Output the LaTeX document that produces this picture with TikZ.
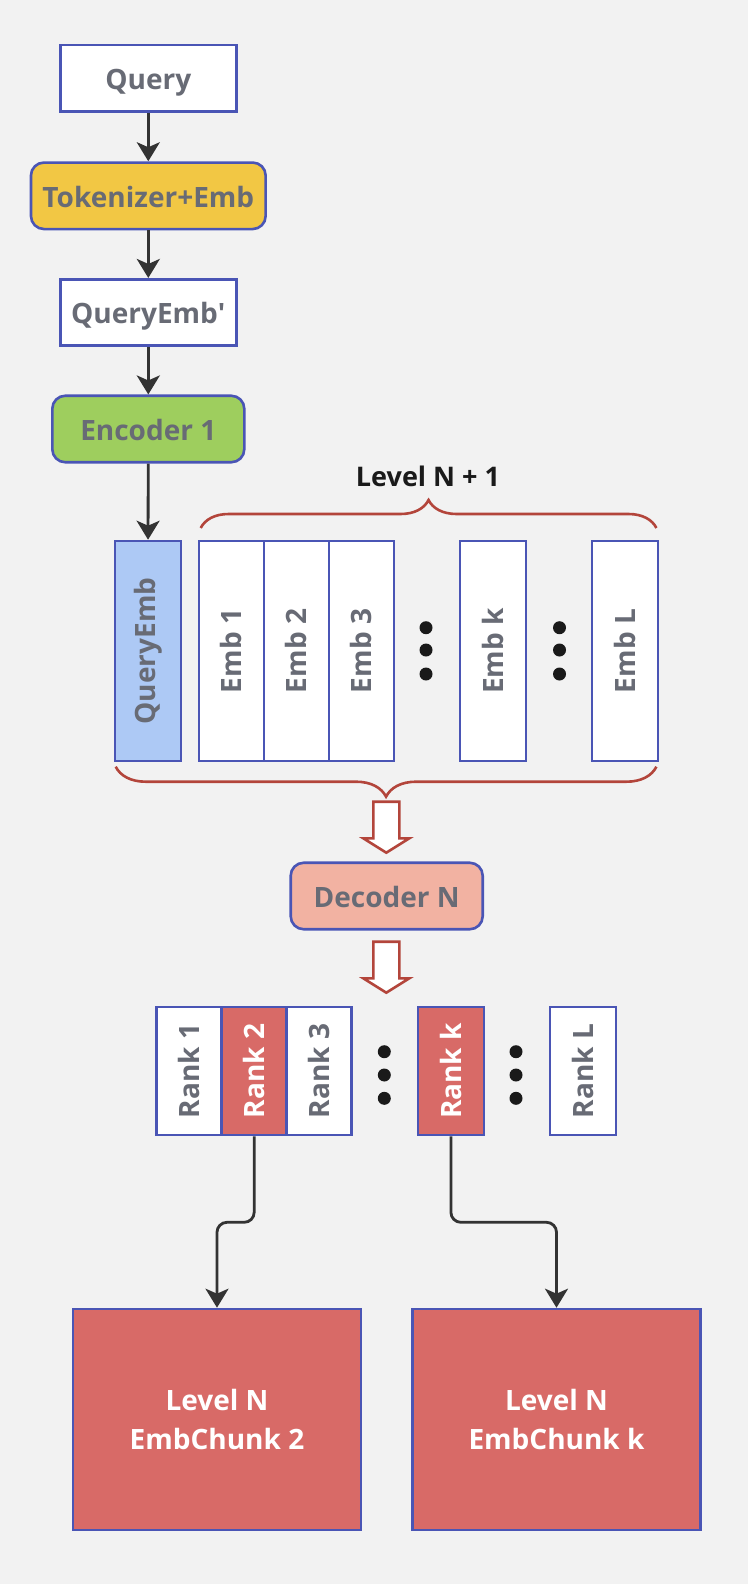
\documentclass[tikz,border=0pt]{standalone}
\usepackage{fontspec}
\setmainfont{Open Sans}
\usepackage{graphicx}
\usetikzlibrary{arrows.meta,decorations.pathreplacing}
\definecolor{bgcol}{HTML}{F2F2F2}
\definecolor{boxblue}{HTML}{4A55B5}
\definecolor{txtgray}{HTML}{686B75}
\definecolor{tokgold}{HTML}{F2C744}
\definecolor{encgreen}{HTML}{9ECE5E}
\definecolor{qblue}{HTML}{ADC9F5}
\definecolor{decpink}{HTML}{F2B2A2}
\definecolor{hitred}{HTML}{D86A67}
\definecolor{bracered}{HTML}{B3453B}
\definecolor{arrowgray}{HTML}{333333}
\definecolor{dotblack}{HTML}{1A1A1A}
\begin{document}
\begin{tikzpicture}[x=1pt, y=-1pt,
    every node/.style={font=\fontsize{28}{39}\selectfont\bfseries, text=txtgray, inner sep=0pt},
    box/.style={draw=boxblue, line width=2.6pt, fill=white, minimum width=176pt, minimum height=66.5pt},
    hbox/.style={box, text height=22.5pt, text depth=0pt},
    rbox/.style={hbox, rounded corners=13pt},
    embbox/.style={box, minimum width=65pt, minimum height=220pt},
    rankbox/.style={box, minimum width=65pt, minimum height=128pt},
    chunkbox/.style={box, fill=hitred, text=white, minimum width=288pt, minimum height=221pt, align=center},
    hit/.style={fill=hitred, text=white},
    conn/.style={draw=arrowgray, line width=2.8pt, -{Stealth[length=19pt, width=23pt, inset=5pt]}},
    brace/.style={draw=bracered, line width=2.6pt, decorate, decoration={brace, amplitude=28pt}},
    hollow/.style={draw=bracered, line width=2.6pt, fill=white, line join=miter}]
    \fill[bgcol] (0,0) rectangle (748,1584);
    \node [hbox] (query) at (148.3,78.3) {Query};
    \node [rbox, fill=tokgold, minimum width=234.7pt] (tok) at (148.3,195.8) {Tokenizer+Emb};
    \node [hbox] (qemb') at (148.3,312.5) {QueryEmb\textquotesingle};
    \node [rbox, fill=encgreen, minimum width=192pt] (enc) at (148.3,429) {Encoder 1};
    \node [embbox, fill=qblue, minimum width=66pt] (qemb) at (147.8,651) {\rotatebox{90}{QueryEmb}};
    \node [embbox] (emb1) at (231.3,651) {\rotatebox{90}{Emb 1}};
    \node [embbox] (emb2) at (296.3,651) {\rotatebox{90}{Emb 2}};
    \node [embbox] (emb3) at (361.3,651) {\rotatebox{90}{Emb 3}};
    \node [embbox, minimum width=66pt] (embk) at (493.1,651) {\rotatebox{90}{Emb k}};
    \node [embbox, minimum width=66pt] (embL) at (624.9,651) {\rotatebox{90}{Emb L}};
    \node [text=dotblack, font=\fontsize{27}{32}\selectfont\bfseries] (level) at (428,476) {Level N + 1};
    \node [rbox, fill=decpink, minimum width=192pt] (dec) at (386.7,896) {Decoder N};
    \node [rankbox] (rank1) at (189.2,1071) {\rotatebox{90}{Rank 1}};
    \node [rankbox, hit] (rank2) at (254.2,1071) {\rotatebox{90}{Rank 2}};
    \node [rankbox] (rank3) at (319.2,1071) {\rotatebox{90}{Rank 3}};
    \node [rankbox, hit, minimum width=66pt] (rankk) at (450.9,1071) {\rotatebox{90}{Rank k}};
    \node [rankbox, minimum width=66pt] (rankL) at (583,1071) {\rotatebox{90}{Rank L}};
    \node [chunkbox] (chunk2) at (217,1419.5) {Level N\\EmbChunk 2};
    \node [chunkbox] (chunkk) at (556.5,1419.5) {Level N\\EmbChunk k};
    \draw [conn] (query) -- (tok);
    \draw [conn] (tok) -- (qemb');
    \draw [conn] (qemb') -- (enc);
    \draw [conn] (enc) -- (qemb);
    \draw [brace] (200.7,528) -- (656.4,528);
    \draw [brace, decoration={amplitude=30pt}] (656.4,766.7) -- (115.7,766.7);
    \foreach \y in {801.7,941.7}
        \draw [hollow] (386.3,\y) ++(-13,0) -- ++(26,0) -- ++(0,36.6) -- ++(10,0) -- ++(-23,14.4) -- ++(-23,-14.4) -- ++(10,0) -- cycle;
    \foreach \x/\y in {426/627.7, 426/650, 426/674, 559.5/627.7, 559.5/650, 559.5/674, 384.3/1051.7, 384.3/1075, 384.3/1098.3, 516/1051.7, 516/1075, 516/1098.3}
        \fill [dotblack] (\x,\y) circle (6.5pt);
    \draw [conn, rounded corners=10pt] (rank2.south) -- ++(0,86) -| (chunk2.north);
    \draw [conn, rounded corners=10pt] (rankk.south) -- ++(0,86) -| (chunkk.north);
\end{tikzpicture}
\end{document}
